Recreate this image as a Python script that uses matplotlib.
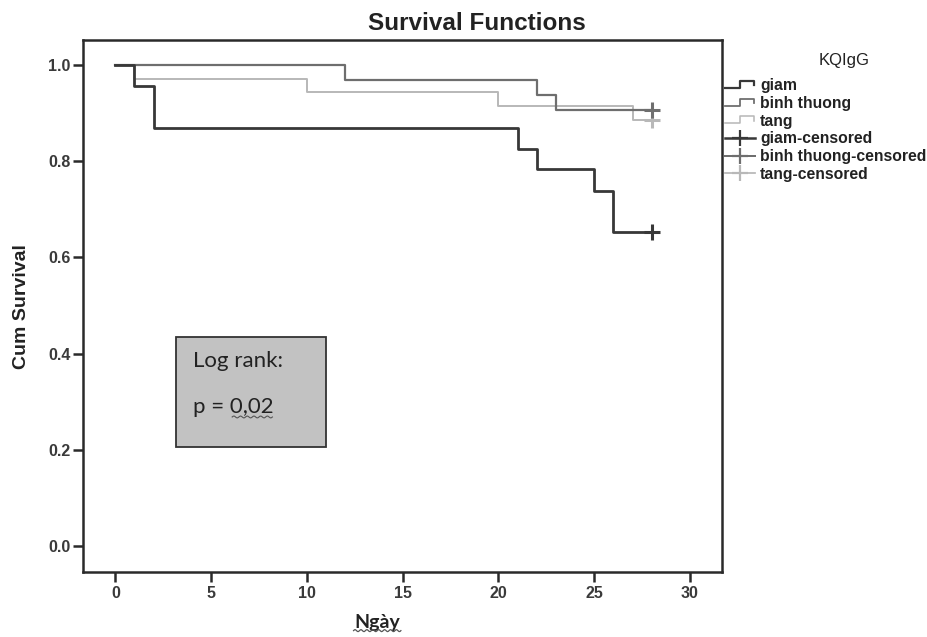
import numpy as np
import matplotlib
matplotlib.use('agg')
import matplotlib.pyplot as plt
from matplotlib.lines import Line2D
from matplotlib.legend_handler import HandlerBase
from matplotlib.patches import Rectangle

plt.rcParams['font.family'] = ['Liberation Sans', 'DejaVu Sans']

# Kaplan-Meier step data
giam_t = [0, 1, 2, 21, 22, 25, 26, 28]
giam_s = [1.0, 0.957, 0.870, 0.826, 0.783, 0.739, 0.652, 0.652]
binh_t = [0, 12, 22, 23, 28]
binh_s = [1.0, 0.969, 0.938, 0.906, 0.906]
tang_t = [0, 1, 10, 20, 27, 28]
tang_s = [1.0, 0.971, 0.943, 0.914, 0.886, 0.886]
censor_t = [28, 28, 28]
censor_s = [0.652, 0.906, 0.886]

groups = ['giam', 'binh thuong', 'tang']
colors = ['#383838', '#6e6e6e', '#b8b8b8']
widths = [2.0, 1.6, 1.4]

fig = plt.figure(figsize=(9.28, 6.37), dpi=100)
ax = fig.add_axes([0.0898, 0.1016, 0.688, 0.8356])

series = [(giam_t, giam_s), (binh_t, binh_s), (tang_t, tang_s)]
# draw light first so darker lines sit on top
for i in [2, 1, 0]:
    t, s = series[i]
    ax.step(t, s, where='post', color=colors[i], lw=widths[i], zorder=3 + (2 - i))
for i in [2, 1, 0]:
    ax.plot(censor_t[i], censor_s[i], marker='+', ms=11, mew=2.2, color=colors[i], zorder=6)

ax.set_xlim(-1.67, 31.66)
ax.set_ylim(-0.055, 1.052)
ax.set_xticks([0, 5, 10, 15, 20, 25, 30])
ax.set_yticks([0.0, 0.2, 0.4, 0.6, 0.8, 1.0])
ax.set_yticklabels(['0.0', '0.2', '0.4', '0.6', '0.8', '1.0'])
for sp in ax.spines.values():
    sp.set_linewidth(1.8)
    sp.set_color('#2a2a2a')
ax.tick_params(direction='out', length=7, width=1.8, color='#2a2a2a',
               labelsize=11.5, labelcolor='#3a3a3a')
ax.tick_params(axis='y', pad=2)
ax.tick_params(axis='x', pad=3)
for lab in ax.get_xticklabels() + ax.get_yticklabels():
    lab.set_fontweight('bold')

ax.set_title('Survival Functions', fontsize=17.5, fontweight='bold', color='#222222',
             x=0.616, pad=7)
ax.set_ylabel('Cum Survival', fontsize=14, fontweight='bold', color='#222222',
              family=['Liberation Sans Narrow', 'Liberation Sans', 'DejaVu Sans'])
ax.yaxis.set_label_coords(-0.083, 0.5)
ax.set_xlabel('Ngày', fontsize=14, fontweight='bold', color='#222222',
              family=['Lato', 'DejaVu Sans'])
ax.xaxis.set_label_coords(0.46, -0.078)

# wavy underline under "Ngày"
xw = np.linspace(0.381, 0.432, 50)
fig.add_artist(Line2D(xw, 0.01 + 0.0016 * np.sin(np.linspace(0, 16 * np.pi, 50)),
                      color='#555555', lw=0.9, transform=fig.transFigure))

# Log rank box
ax.add_patch(Rectangle((3.17, 0.205), 7.82, 0.229, facecolor='#c2c2c2',
                       edgecolor='#333333', lw=1.3, zorder=7))
ax.text(4.06, 0.384, 'Log rank:', fontsize=16, family=['Lato', 'DejaVu Sans'],
        color='#222222', va='center', zorder=8)
ax.text(4.06, 0.289, 'p = 0,02', fontsize=16, family=['Lato', 'DejaVu Sans'],
        color='#222222', va='center', zorder=8)
xs = np.linspace(6.1, 8.2, 40)
ax.plot(xs, 0.268 + 0.002 * np.sin(np.linspace(0, 12 * np.pi, 40)),
        color='#555555', lw=0.8, zorder=8)


class StepHandler(HandlerBase):
    def create_artists(self, legend, orig_handle, xdescent, ydescent,
                       width, height, fontsize, trans):
        x0, y0 = -xdescent, -ydescent
        xs = np.array([0, 0.5, 0.5, 0.97, 0.97]) * width + x0
        ys = np.array([0.2, 0.2, 0.85, 0.85, 0.45]) * height + y0
        ln = Line2D(xs, ys, color=orig_handle.get_color(),
                    lw=orig_handle.get_linewidth(), transform=trans)
        return [ln]


handles = []
labels = []
for i in range(3):
    handles.append(Line2D([], [], color=colors[i], lw=widths[i] * 0.8))
    labels.append(groups[i])
for i in range(3):
    handles.append(Line2D([], [], color=colors[i], lw=widths[i] * 0.9,
                          marker='+', ms=11, mew=1.6))
    labels.append(groups[i] + '-censored')

hmap = {h: StepHandler() for h in handles[:3]}
leg = fig.legend(handles, labels, loc='upper left', bbox_to_anchor=(0.781, 0.877),
                 frameon=False, handler_map=hmap,
                 handlelength=1.95, handletextpad=0.3, labelspacing=0.17,
                 borderaxespad=0, borderpad=0, prop={'size': 11.3, 'weight': 'bold'})
for txt in leg.get_texts():
    txt.set_color('#222222')
fig.text(844 / 928, 1 - 60 / 637, 'KQIgG', fontsize=12, color='#222222',
         ha='center', va='center')

fig.savefig('out.png', dpi=100)
